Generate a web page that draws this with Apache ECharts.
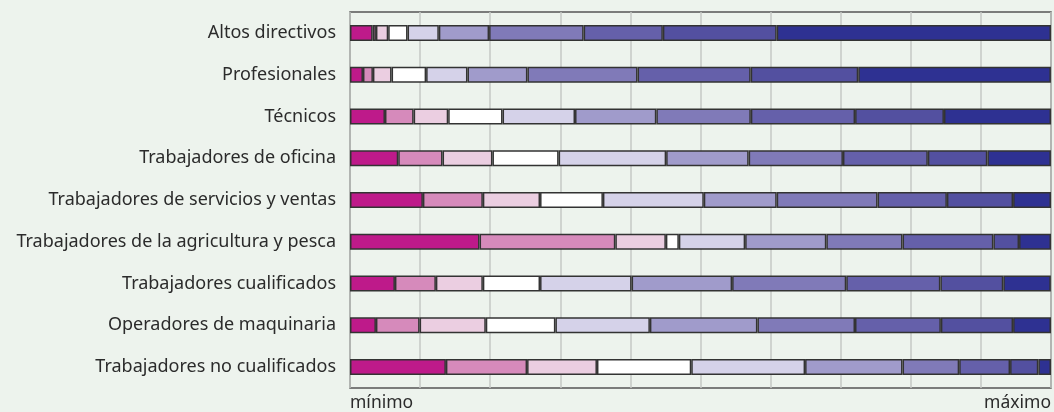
<!DOCTYPE html>
<html>
<head>
<meta charset="utf-8">
<script src="https://cdn.jsdelivr.net/npm/echarts@6/dist/echarts.min.js"></script>
<style>
html,body{margin:0;padding:0;background:#EDF3ED;}
#c{width:1054px;height:412px;}
</style>
</head>
<body>
<div id="c"></div>
<script>
const categories = [
  "Altos directivos",
  "Profesionales",
  "Técnicos",
  "Trabajadores de oficina",
  "Trabajadores de servicios y ventas",
  "Trabajadores de la agricultura y pesca",
  "Trabajadores cualificados",
  "Operadores de maquinaria",
  "Trabajadores no cualificados"
];
const axisLabels = ["mínimo", "máximo"];
const seg1  = [3.23, 1.85, 4.99, 6.88, 10.40, 18.48, 6.41, 3.70, 13.68];
const seg2  = [0.47, 1.42, 4.09, 6.32, 8.55, 19.37, 5.84, 6.23, 11.58];
const seg3  = [1.75, 2.66, 4.93, 7.12, 8.16, 7.21, 6.70, 9.44, 9.97];
const seg4  = [2.76, 4.93, 7.75, 9.44, 8.97, 1.85, 8.16, 9.93, 13.45];
const seg5  = [4.46, 5.90, 10.34, 15.34, 14.39, 9.46, 13.06, 13.48, 16.24];
const seg6  = [7.17, 8.55, 11.60, 11.77, 10.40, 11.58, 14.34, 15.34, 13.90];
const seg7  = [13.49, 15.71, 13.48, 13.45, 14.39, 10.87, 16.28, 13.92, 8.08];
const seg8  = [11.30, 16.14, 14.87, 12.11, 9.89, 12.96, 13.43, 12.25, 7.26];
const seg9  = [16.24, 15.34, 12.68, 8.49, 9.44, 3.66, 8.97, 10.30, 4.03];
const seg10 = [39.13, 27.49, 15.28, 9.07, 5.41, 4.56, 6.79, 5.41, 1.81];

const segments = [seg1, seg2, seg3, seg4, seg5, seg6, seg7, seg8, seg9, seg10];
const colors = ["#BE1A8A", "#D68ABB", "#EBCEE1", "#FFFFFF", "#D5D2E9",
                "#A09BCB", "#807AB8", "#6560AA", "#5350A0", "#2E3192"];

const chart = echarts.init(document.getElementById('c'), null, {renderer: 'canvas'});
chart.setOption({
  backgroundColor: '#EDF3ED',
  animation: false,
  grid: {
    left: 350, top: 12, height: 377, width: 705,
    show: true, borderColor: '#555', borderWidth: 1.5,
    backgroundColor: 'transparent'
  },
  xAxis: {
    type: 'value', min: 0, max: 100, interval: 10,
    axisLine: {show: false},
    axisTick: {show: false},
    splitLine: {show: true, lineStyle: {color: '#C4C8C4', width: 1.5}},
    axisLabel: {
      show: true, margin: 6,
      fontFamily: 'Noto Sans', fontSize: 17.5, color: '#2b2b2b',
      alignMinLabel: 'left', alignMaxLabel: 'right',
      formatter: function (v) {
        if (v === 0) return axisLabels[0];
        if (v === 100) return axisLabels[1];
        return '';
      }
    }
  },
  yAxis: {
    type: 'category', data: categories, inverse: true,
    axisLine: {show: false},
    axisTick: {show: false},
    splitLine: {show: false},
    axisLabel: {
      margin: 14, fontFamily: 'Noto Sans', fontSize: 18, color: '#2b2b2b'
    }
  },
  series: segments.map(function (d, i) {
    return {
      type: 'bar', stack: 'total', data: d, barWidth: 16,
      itemStyle: {color: colors[i], borderColor: '#333', borderWidth: 1.5}
    };
  })
});
</script>
</body>
</html>
